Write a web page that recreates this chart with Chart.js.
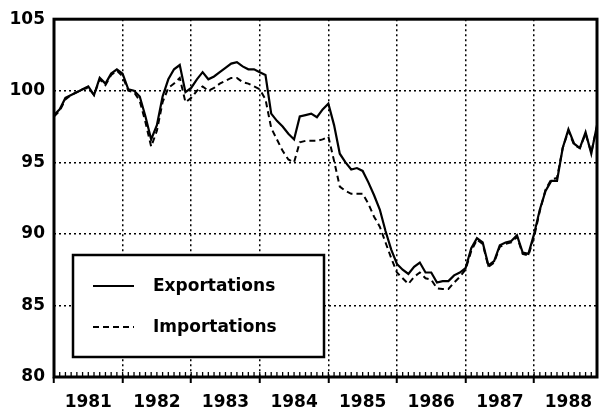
<!DOCTYPE html>
<html>
<head>
<meta charset="utf-8">
<script src="https://cdn.jsdelivr.net/npm/chart.js@4/dist/chart.umd.min.js"></script>
<style>
  body { margin: 0; background: #fff; }
  #wrap { width: 606px; height: 411px; }
</style>
</head>
<body>
<div id="wrap"><canvas id="myChart" width="606" height="411"></canvas></div>
<script>
// monthly index values, Jan 1981 .. Dec 1988
const years = [1981, 1982, 1983, 1984, 1985, 1986, 1987, 1988];
const yTicks = [80, 85, 90, 95, 100, 105];

const exportations = [
  98.3, 98.7, 99.5, 99.7, 99.9, 100.1, 100.3, 99.7, 100.9, 100.5, 101.2, 101.5,
  101.2, 100.1, 100.0, 99.6, 98.2, 96.6, 97.6, 99.6, 100.8, 101.5, 101.8, 99.9,
  100.2, 100.8, 101.3, 100.8, 101.0, 101.3, 101.6, 101.9, 102.0, 101.7, 101.5, 101.5,
  101.3, 101.1, 98.4, 97.9, 97.5, 97.0, 96.6, 98.2, 98.3, 98.4, 98.15, 98.7,
  99.1, 97.6, 95.6, 95.0, 94.5, 94.6, 94.4, 93.6, 92.7, 91.7, 90.2, 88.9,
  87.9, 87.5, 87.2, 87.7, 88.0, 87.3, 87.3, 86.6, 86.7, 86.7, 87.1, 87.3,
  87.6, 89.0, 89.7, 89.4, 87.8, 88.1, 89.2, 89.4, 89.5, 89.9, 88.7, 88.6,
  90.0, 91.7, 93.0, 93.7, 93.7, 96.0, 97.3, 96.3, 96.0, 97.1, 95.6, 97.6
];

const importations = [
  98.2, 98.6, 99.4, 99.7, 99.9, 100.1, 100.2, 99.7, 100.8, 100.4, 101.1, 101.4,
  101.0, 100.0, 99.9, 99.3, 97.8, 96.1, 97.2, 99.2, 100.2, 100.5, 100.9, 99.2,
  99.5, 100.0, 100.3, 100.0, 100.2, 100.5, 100.7, 100.9, 100.9, 100.6, 100.5, 100.3,
  100.1, 99.4, 97.4, 96.6, 95.8, 95.2, 95.0, 96.4, 96.5, 96.5, 96.5, 96.6,
  96.8, 95.1, 93.3, 93.0, 92.8, 92.8, 92.8, 92.1, 91.2, 90.5, 89.4, 88.3,
  87.3, 86.9, 86.5, 87.0, 87.3, 86.9, 86.8, 86.2, 86.15, 86.15, 86.6, 87.0,
  87.5, 88.8, 89.6, 89.3, 87.7, 88.0, 89.1, 89.3, 89.4, 89.8, 88.6, 88.5,
  89.8, 91.6, 93.1, 93.8, 93.9, 96.0, 97.2, 96.2, 96.0, 97.0, 95.7, 97.5
];

const seriesNames = ["Exportations", "Importations"];

const months = [];
years.forEach((y) => {
  for (let m = 1; m <= 12; m++) months.push(y + "-" + m);
});

const font = { family: "DejaVu Sans", weight: "bold", size: 17 };

// frame, month ticks and legend box
const decor = {
  id: "decor",
  afterDraw(chart) {
    const c = chart.ctx;
    const a = chart.chartArea;
    const x = chart.scales.x;
    c.save();
    c.strokeStyle = "#000";
    c.lineWidth = 1.3;
    for (let i = 1; i < months.length; i++) {
      const px = x.getPixelForValue(i);
      c.beginPath();
      c.moveTo(px, a.bottom);
      c.lineTo(px, a.bottom - 5);
      c.stroke();
    }
    c.lineWidth = 3;
    c.strokeRect(a.left, a.top, a.right - a.left, a.bottom - a.top);

    // legend
    const bx = a.left + 19, by = 255, bw = 251, bh = 102;
    c.fillStyle = "#fff";
    c.fillRect(bx, by, bw, bh);
    c.lineWidth = 2.5;
    c.strokeRect(bx, by, bw, bh);
    c.lineWidth = 2.2;
    c.beginPath();
    c.moveTo(bx + 20, 286);
    c.lineTo(bx + 61, 286);
    c.stroke();
    c.setLineDash([6, 4]);
    c.beginPath();
    c.moveTo(bx + 20, 327);
    c.lineTo(bx + 61, 327);
    c.stroke();
    c.setLineDash([]);
    c.fillStyle = "#000";
    c.font = "bold 17px 'DejaVu Sans'";
    c.textBaseline = "middle";
    c.fillText(seriesNames[0], bx + 80, 287);
    c.fillText(seriesNames[1], bx + 80, 328);
    c.restore();
  },
};

new Chart(document.getElementById("myChart"), {
  type: "line",
  data: {
    labels: months,
    datasets: [
      {
        label: seriesNames[0],
        data: exportations,
        borderColor: "#000",
        borderWidth: 2.2,
        pointRadius: 0,
        tension: 0,
      },
      {
        label: seriesNames[1],
        data: importations,
        borderColor: "#000",
        borderWidth: 2,
        borderDash: [6, 4],
        pointRadius: 0,
        tension: 0,
      },
    ],
  },
  options: {
    responsive: false,
    animation: false,
    layout: { padding: { top: 19, right: 2, left: 0, bottom: 0 } },
    plugins: { legend: { display: false }, tooltip: { enabled: false } },
    scales: {
      x: {
        type: "category",
        offset: false,
        afterFit: (s) => { s.height = 34; },
        border: { display: false, dash: [2, 3] },
        grid: {
          color: (ctx) => (ctx.index % 12 === 0 ? "#000" : "rgba(0,0,0,0)"),
          tickColor: (ctx) => (ctx.index % 12 === 0 ? "#000" : "rgba(0,0,0,0)"),
          lineWidth: 1.5,
          tickWidth: 2,
          tickLength: 6,
        },
        ticks: {
          autoSkip: false,
          maxRotation: 0,
          padding: 9,
          color: "#000",
          font: font,
          callback: (v, i) => (i % 12 === 6 ? years[Math.floor(i / 12)] : ""),
        },
      },
      y: {
        min: 80,
        max: 105,
        afterFit: (s) => { s.width = 54; },
        afterBuildTicks: (s) => { s.ticks = yTicks.map((v) => ({ value: v })); },
        border: { display: false, dash: [2, 3] },
        grid: {
          color: "#000",
          lineWidth: 1.5,
          drawTicks: false,
        },
        ticks: {
          padding: 9,
          color: "#000",
          font: font,
        },
      },
    },
  },
  plugins: [decor],
});
</script>
</body>
</html>
